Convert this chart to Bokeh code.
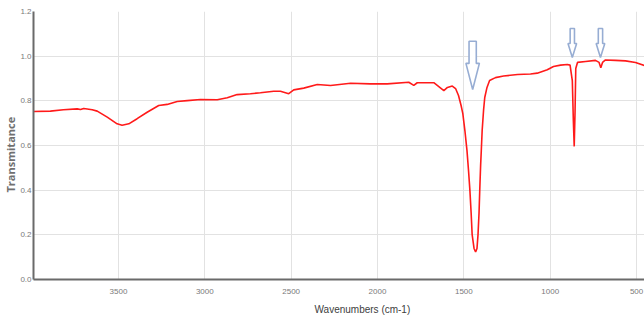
from bokeh.plotting import figure
from bokeh.models import Range1d, FixedTicker, PrintfTickFormatter, Title
from bokeh.embed import file_html
from bokeh.resources import INLINE

# ---- data ----
wavenumber = [3992, 3894, 3819, 3739, 3720, 3701, 3652, 3623, 3565, 3508,
              3479, 3440, 3392, 3334, 3267, 3218, 3160, 3102, 3025, 2928,
              2870, 2813, 2736, 2678, 2601, 2562, 2514, 2485, 2427, 2349,
              2272, 2156, 2041, 1944, 1819, 1790, 1770, 1674, 1616, 1595,
              1567, 1548, 1531, 1516, 1506, 1494, 1482, 1473, 1465, 1458,
              1452, 1441, 1432, 1424, 1418, 1412, 1408, 1403, 1399, 1394,
              1386, 1379, 1366, 1351, 1317, 1270, 1189, 1114, 1075, 1017,
              981, 940, 901, 885, 872, 866, 861, 856, 852, 842,
              795, 738, 717, 707, 697, 680, 622, 564, 506, 454]
transmittance = [0.752, 0.754, 0.760, 0.764, 0.761, 0.766, 0.760, 0.754, 0.727, 0.697,
                 0.691, 0.697, 0.720, 0.749, 0.779, 0.784, 0.797, 0.801, 0.806, 0.805,
                 0.814, 0.828, 0.832, 0.836, 0.843, 0.843, 0.832, 0.849, 0.857, 0.873,
                 0.869, 0.879, 0.876, 0.876, 0.883, 0.869, 0.881, 0.881, 0.846, 0.860,
                 0.866, 0.855, 0.824, 0.779, 0.743, 0.667, 0.578, 0.488, 0.399, 0.300,
                 0.201, 0.139, 0.123, 0.139, 0.201, 0.300, 0.399, 0.510, 0.578, 0.667,
                 0.757, 0.815, 0.860, 0.891, 0.904, 0.911, 0.918, 0.920, 0.924, 0.939,
                 0.954, 0.960, 0.963, 0.960, 0.891, 0.712, 0.596, 0.757, 0.945, 0.972,
                 0.976, 0.981, 0.972, 0.948, 0.972, 0.983, 0.981, 0.979, 0.972, 0.958]

# marker arrows (position, top, tip)
arrow_x = [1449, 872, 709]
arrow_top = [1.067, 1.124, 1.124]
arrow_tip = [0.851, 0.994, 0.994]

x_ticks = [500, 1000, 1500, 2000, 2500, 3000, 3500]
y_ticks = [0.0, 0.2, 0.4, 0.6, 0.8, 1.0, 1.2]
x_title = "Wavenumbers (cm-1)"
y_title = "Transmitance"

# ---- styles ----
arrow_shaft_w = [42, 25, 25]
arrow_head_w = [78, 50, 50]
arrow_head_frac = [0.54, 0.48, 0.48]
font = "'Liberation Sans', sans-serif"

p = figure(width=644, height=320, output_backend="svg", toolbar_location=None,
           x_range=Range1d(3992, 454), y_range=Range1d(0, 1.2),
           min_border_left=33, min_border_right=0, min_border_top=11, min_border_bottom=41)
p.background_fill_color = "white"
p.border_fill_color = "white"
p.outline_line_color = None

p.xaxis.ticker = FixedTicker(ticks=x_ticks)
p.yaxis.ticker = FixedTicker(ticks=y_ticks)
p.yaxis.formatter = PrintfTickFormatter(format="%.1f")
for ax in (p.xaxis, p.yaxis):
    ax.major_tick_line_color = None
    ax.minor_tick_line_color = None
    ax.major_tick_out = 0
    ax.major_tick_in = 0
    ax.axis_line_color = "#6a6a6a"
    ax.axis_line_width = 2
    ax.major_label_text_color = "#7a7a7a"
    ax.major_label_text_font = font
    ax.major_label_text_font_size = "8px"
p.yaxis.major_label_standoff = 2
p.xaxis.major_label_standoff = 9

p.xgrid.grid_line_color = "#e2e2e2"
p.ygrid.grid_line_color = "#e2e2e2"
p.xgrid.ticker = FixedTicker(ticks=x_ticks)
p.ygrid.ticker = FixedTicker(ticks=y_ticks)

p.line(wavenumber, transmittance, line_color="#ff1a1a", line_width=1.6)

xs, ys = [], []
for x0, top, tip, sw, hw, hf in zip(arrow_x, arrow_top, arrow_tip,
                                    arrow_shaft_w, arrow_head_w, arrow_head_frac):
    hs = tip + (top - tip) * hf
    xs.append([x0 - sw / 2, x0 + sw / 2, x0 + sw / 2, x0 + hw / 2, x0,
               x0 - hw / 2, x0 - sw / 2])
    ys.append([top, top, hs, hs, tip, hs, hs])
p.patches(xs, ys, fill_color="white", line_color="#97add3", line_width=1.6)

p.add_layout(Title(text=x_title, align="left", offset=281, standoff=10,
                   vertical_align="bottom", text_font=font, text_font_size="10px",
                   text_font_style="normal", text_color="#404040"), "below")
p.add_layout(Title(text=y_title, align="left", offset=87, standoff=-1,
                   vertical_align="bottom", text_font="'Open Sans', sans-serif",
                   text_font_size="11px", text_font_style="bold",
                   text_color="#707070"), "left")

open("out.html", "w").write(file_html(p, INLINE))
